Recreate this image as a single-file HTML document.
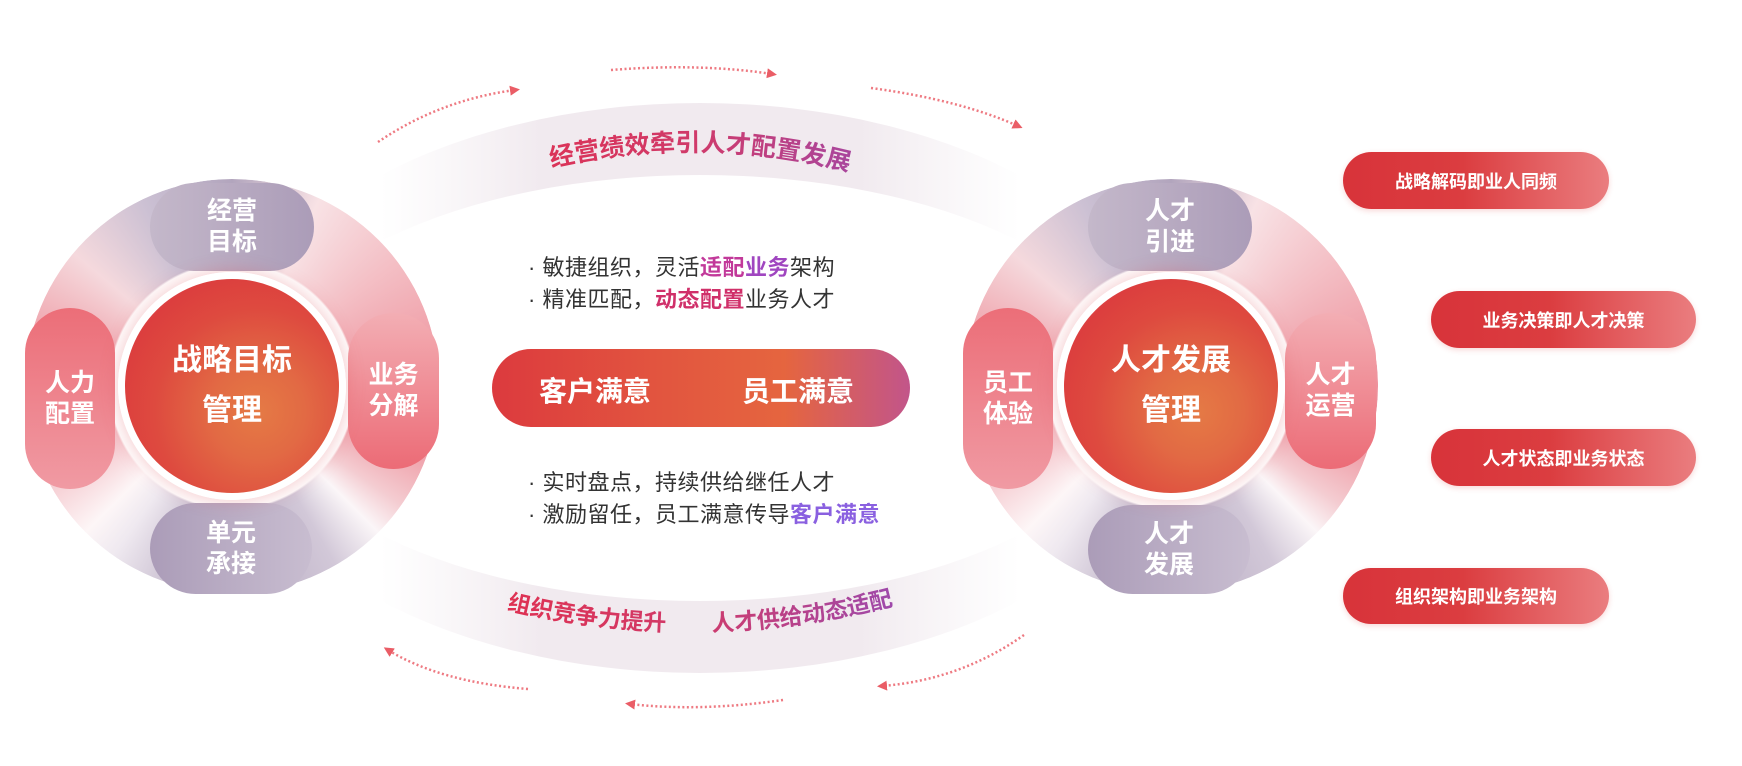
<!DOCTYPE html>
<html><head><meta charset="utf-8">
<style>
html,body{margin:0;padding:0;background:#fff;}
body{width:1742px;height:766px;position:relative;overflow:hidden;font-family:"Liberation Sans","Noto Sans CJK SC",sans-serif;}
.abs{position:absolute;}
.ring{position:absolute;border-radius:50%;
 -webkit-mask:radial-gradient(circle closest-side,transparent 59%,#000 60%);mask:radial-gradient(circle closest-side,transparent 59%,#000 60%);}
.petal{position:absolute;color:#fff;font-weight:bold;font-size:25px;line-height:31px;text-align:center;display:flex;align-items:center;justify-content:center;}
.core{position:absolute;border-radius:50%;border:7px solid #fff;box-sizing:border-box;
 background:radial-gradient(circle at 62% 62%,#e57a45 0%,#e26a44 25%,#de4a3f 55%,#dc3e3e 75%,#e07f98 100%);
 box-shadow:0 0 18px rgba(220,80,90,.35);color:#fff;font-weight:bold;font-size:30px;line-height:50px;text-align:center;display:flex;align-items:center;justify-content:center;}
.pill{position:absolute;border-radius:33px;color:#fff;font-size:18px;font-weight:bold;display:flex;align-items:center;justify-content:center;
 background:linear-gradient(90deg,#d8333a 0%,#db3d40 45%,#ea7d7f 100%);box-shadow:0 2px 6px rgba(220,60,60,.2);}
.bl{position:absolute;font-size:22px;color:#333;white-space:nowrap;letter-spacing:0.5px;}
.r{color:#c83a8a;font-weight:bold}
.p{color:#8a5ce0;font-weight:bold}
</style></head><body>

<svg class="abs" style="left:0;top:0" width="1742" height="766" viewBox="0 0 1742 766">
 <defs>
  <linearGradient id="band" x1="380" y1="0" x2="1020" y2="0" gradientUnits="userSpaceOnUse">
   <stop offset="0" stop-color="#f3eef2" stop-opacity="0"/>
   <stop offset="0.25" stop-color="#f1eaef"/>
   <stop offset="0.75" stop-color="#f1eaef"/>
   <stop offset="1" stop-color="#f3eef2" stop-opacity="0"/>
  </linearGradient>
  <linearGradient id="tg2" x1="480" y1="0" x2="910" y2="0" gradientUnits="userSpaceOnUse">
   <stop offset="0" stop-color="#e0304f"/><stop offset="0.5" stop-color="#d03a6a"/><stop offset="1" stop-color="#9a4ab0"/>
  </linearGradient>
  <path id="arcT" d="M 520 175 Q 700 125 880 180"/>
  <path id="arcB" d="M 470 600 Q 700 665 930 595"/>
  <marker id="ah" markerWidth="10" markerHeight="10" refX="5" refY="5" orient="auto" markerUnits="userSpaceOnUse">
   <path d="M0,0 L10,5 L0,10 Z" fill="#ea5d66"/>
  </marker>
 </defs>
 <path fill="url(#band)" fill-rule="evenodd" d="M 220 388 a 480 285 0 1 0 960 0 a 480 285 0 1 0 -960 0 Z M 260 388 a 440 213 0 1 0 880 0 a 440 213 0 1 0 -880 0 Z"/>
 <text font-size="25" font-weight="bold" fill="url(#tg2)" font-family="Liberation Sans,Noto Sans CJK SC,sans-serif"><textPath href="#arcT" startOffset="50%" text-anchor="middle">经营绩效牵引人才配置发展</textPath></text>
 <text font-size="23" font-weight="bold" fill="url(#tg2)" font-family="Liberation Sans,Noto Sans CJK SC,sans-serif"><textPath href="#arcB" startOffset="50%" text-anchor="middle">组织竞争力提升　　人才供给动态适配</textPath></text>
 <g fill="none" stroke="#ee7a82" stroke-width="2.5" stroke-dasharray="2 2.5">
  <path d="M378 142 Q440 100 515 90" marker-end="url(#ah)"/>
  <path d="M611 70 Q700 63 772 74" marker-end="url(#ah)"/>
  <path d="M871 88 Q960 100 1018 126" marker-end="url(#ah)"/>
  <path d="M528 689 Q440 682 388 650" marker-end="url(#ah)"/>
  <path d="M783 700 Q700 712 630 704" marker-end="url(#ah)"/>
  <path d="M1024 635 Q960 680 882 686" marker-end="url(#ah)"/>
 </g>
</svg>

<!-- Left cluster -->
<div class="ring" style="left:25px;top:179px;width:414px;height:414px;background:conic-gradient(from 0deg,#b2a5bd 0deg,#f8e2e5 25deg,#f1a9b1 70deg,#ec8591 100deg,#f4ccd1 125deg,#fbf6f8 135deg,#d2c8d8 150deg,#b2a5bd 185deg,#efe9f0 215deg,#fdf6f7 225deg,#f4c4ca 245deg,#ed8f99 275deg,#f5d9dd 310deg,#cbc0d3 335deg,#b2a5bd 360deg);"></div>
<div class="petal" style="left:150px;top:183px;width:164px;height:88px;border-radius:50px;background:linear-gradient(90deg,#c4b8ca,#ab9cb8);">经营<br>目标</div>
<div class="petal" style="left:25px;top:308px;width:90px;height:181px;border-radius:45px;background:linear-gradient(180deg,#ec6e78,#f09aa3);">人力<br>配置</div>
<div class="petal" style="left:348px;top:313px;width:91px;height:156px;border-radius:45px;background:linear-gradient(180deg,#f3aeb4,#ec6b76);">业务<br>分解</div>
<div class="petal" style="left:150px;top:503px;width:162px;height:91px;border-radius:46px;background:linear-gradient(90deg,#ab9cb8,#c8bdd0);">单元<br>承接</div>
<div class="core" style="left:118px;top:272px;width:228px;height:228px;">战略目标<br>管理</div>

<!-- Right cluster -->
<div class="ring" style="left:964px;top:179px;width:414px;height:414px;background:conic-gradient(from 0deg,#b2a5bd 0deg,#f8e2e5 25deg,#f1a9b1 70deg,#ec8591 100deg,#f4ccd1 125deg,#fbf6f8 135deg,#d2c8d8 150deg,#b2a5bd 185deg,#efe9f0 215deg,#fdf6f7 225deg,#f4c4ca 245deg,#ed8f99 275deg,#f5d9dd 310deg,#cbc0d3 335deg,#b2a5bd 360deg);"></div>
<div class="petal" style="left:1088px;top:183px;width:164px;height:88px;border-radius:50px;background:linear-gradient(90deg,#c4b8ca,#ab9cb8);">人才<br>引进</div>
<div class="petal" style="left:963px;top:308px;width:90px;height:181px;border-radius:45px;background:linear-gradient(180deg,#ec6e78,#f09aa3);">员工<br>体验</div>
<div class="petal" style="left:1285px;top:313px;width:91px;height:156px;border-radius:45px;background:linear-gradient(180deg,#f3aeb4,#ec6b76);">人才<br>运营</div>
<div class="petal" style="left:1088px;top:505px;width:162px;height:89px;border-radius:46px;background:linear-gradient(90deg,#ab9cb8,#c8bdd0);">人才<br>发展</div>
<div class="core" style="left:1057px;top:272px;width:228px;height:228px;">人才发展<br>管理</div>

<!-- center -->
<div class="bl" style="left:528px;top:250px;">·&nbsp;敏捷组织，灵活<span class="r" style="color:#c2399a">适配</span><span class="p" style="color:#a046c0">业务</span>架构</div>
<div class="bl" style="left:528px;top:282px;">·&nbsp;精准匹配，<span class="r" style="color:#d0306a">动态配置</span>业务人才</div>
<div style="position:absolute;left:492px;top:349px;width:418px;height:78px;border-radius:39px;background:linear-gradient(90deg,#dc3a3e 0%,#e2553f 40%,#e5653f 70%,#c2558a 100%);color:#fff;font-weight:bold;font-size:28px;">
 <span style="position:absolute;left:47px;top:21px;">客户满意</span><span style="position:absolute;left:250px;top:21px;">员工满意</span></div>
<div class="bl" style="left:528px;top:465px;">·&nbsp;实时盘点，持续供给继任人才</div>
<div class="bl" style="left:528px;top:497px;">·&nbsp;激励留任，员工满意传导<span class="p" style="color:#8a60e0">客户满意</span></div>

<!-- pills -->
<div class="pill" style="left:1343px;top:152px;width:266px;height:57px;">战略解码即业人同频</div>
<div class="pill" style="left:1431px;top:291px;width:265px;height:57px;">业务决策即人才决策</div>
<div class="pill" style="left:1431px;top:429px;width:265px;height:57px;">人才状态即业务状态</div>
<div class="pill" style="left:1343px;top:568px;width:266px;height:56px;">组织架构即业务架构</div>
</body></html>
